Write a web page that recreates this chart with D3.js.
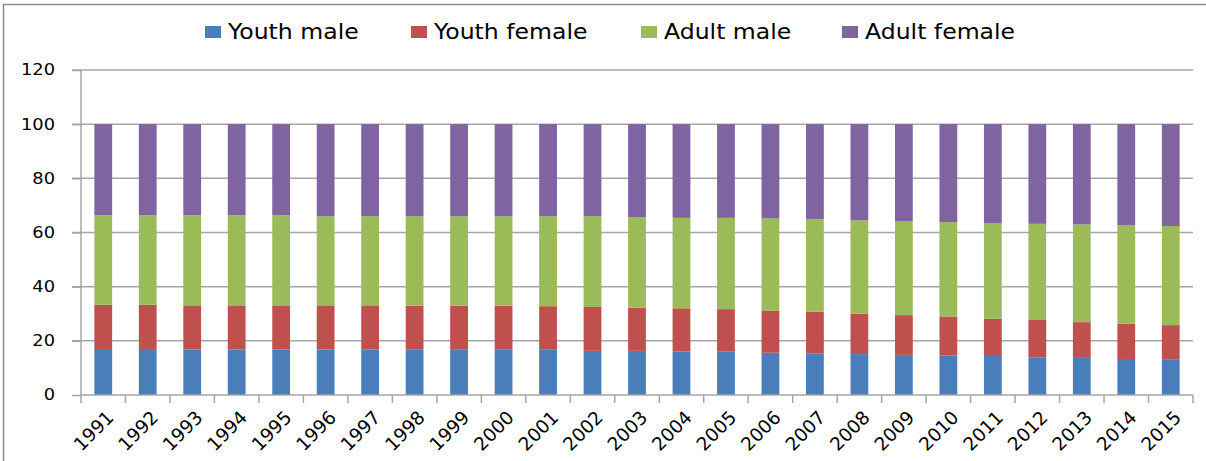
<!DOCTYPE html>
<html>
<head>
<meta charset="utf-8">
<script src="https://cdn.jsdelivr.net/npm/d3@7"></script>
<style>
  body { margin: 0; background: #fff; }
  svg text { font-family: "DejaVu Sans", Verdana, sans-serif; fill: #000; }
</style>
</head>
<body>
<script>
var years = ["1991","1992","1993","1994","1995","1996","1997","1998","1999","2000","2001","2002","2003",
             "2004","2005","2006","2007","2008","2009","2010","2011","2012","2013","2014","2015"];
var youthMale   = [17.0,17.0,16.8,16.8,16.8,16.8,16.8,16.7,16.7,16.7,16.7,16.3,16.3,16.1,16.0,15.6,15.4,15.1,14.8,14.6,14.4,13.9,13.7,13.3,13.0];
var youthFemale = [16.3,16.3,16.3,16.3,16.3,16.3,16.3,16.3,16.3,16.3,16.1,16.2,15.9,15.9,15.7,15.6,15.3,14.9,14.7,14.4,13.8,13.8,13.2,13.0,12.8];
var adultMale   = [33.1,33.1,33.3,33.3,33.3,32.9,32.9,33.0,33.0,33.0,33.2,33.5,33.5,33.4,33.7,34.0,34.2,34.5,34.7,34.8,35.3,35.5,36.1,36.4,36.6];
var adultFemale = [33.6,33.6,33.6,33.6,33.6,34.0,34.0,34.0,34.0,34.0,34.0,34.0,34.3,34.6,34.6,34.8,35.1,35.5,35.8,36.2,36.5,36.8,37.0,37.3,37.6];
var seriesNames = ["Youth male", "Youth female", "Adult male", "Adult female"];
var colors = ["#4a7ebb", "#c0504d", "#9bbb59", "#8064a2"];
var yTicks = [0, 20, 40, 60, 80, 100, 120];

var width = 1206, height = 461;
var margin = {top: 70, right: 13, bottom: 66, left: 81};
var stretch = 1.15; // text in the picture is drawn wider than tall

var rows = years.map(function(y, i) {
  return {year: y, "Youth male": youthMale[i], "Youth female": youthFemale[i],
          "Adult male": adultMale[i], "Adult female": adultFemale[i]};
});
var stacked = d3.stack().keys(seriesNames)(rows);

var svg = d3.select("body").append("svg").attr("width", width).attr("height", height);

// chart area border
svg.append("rect").attr("x", 3.5).attr("y", 4.5).attr("width", width).attr("height", height)
  .attr("fill", "none").attr("stroke", "#8c8c8c").attr("stroke-width", 1.5);

var x = d3.scaleBand().domain(years)
  .range([margin.left, width - margin.right]).paddingInner(0.6).paddingOuter(0.3);
var y = d3.scaleLinear().domain([0, 120]).range([height - margin.bottom, margin.top]);

// gridlines
svg.append("g").selectAll("line").data(yTicks.slice(1)).enter().append("line")
  .attr("x1", margin.left - 9).attr("x2", width - margin.right)
  .attr("y1", function(d) { return y(d); }).attr("y2", function(d) { return y(d); })
  .attr("stroke", "#a6a6a6").attr("stroke-width", 1.5);

// y axis
var yAxis = svg.append("g").attr("transform", "translate(" + margin.left + ",0)")
  .call(d3.axisLeft(y).tickValues(yTicks).tickSize(9).tickPadding(17));
yAxis.selectAll("line, path").attr("stroke", "#a6a6a6").attr("stroke-width", 1.5);
yAxis.select("path").attr("d", "M0," + y(120) + "V" + y(0));
yAxis.selectAll(".tick text")
  .attr("font-size", 15.5).attr("font-family", "DejaVu Sans")
  .attr("x", -26 / stretch).attr("transform", "scale(" + stretch + ",1)");

// bars
svg.append("g").selectAll("g").data(stacked).enter().append("g")
    .attr("fill", function(d, i) { return colors[i]; })
  .selectAll("rect").data(function(d) { return d; }).enter().append("rect")
    .attr("x", function(d) { return x(d.data.year); })
    .attr("width", x.bandwidth())
    .attr("y", function(d) { return y(d[1]); })
    .attr("height", function(d) { return y(d[0]) - y(d[1]); });

// x axis
var x0 = y(0);
var xg = svg.append("g");
xg.append("line").attr("x1", margin.left).attr("x2", width - margin.right)
  .attr("y1", x0).attr("y2", x0).attr("stroke", "#a6a6a6").attr("stroke-width", 1.5);
xg.selectAll("line.tick").data(d3.range(years.length + 1)).enter().append("line")
  .attr("class", "tick")
  .attr("x1", function(i) { return x.range()[0] + i * x.step(); })
  .attr("x2", function(i) { return x.range()[0] + i * x.step(); })
  .attr("y1", x0).attr("y2", x0 + 8).attr("stroke", "#a6a6a6").attr("stroke-width", 1.5);
xg.selectAll("text").data(years).enter().append("text")
  .attr("transform", function(d) {
    return "translate(" + (x(d) + x.bandwidth() / 2 + 7) + "," + (x0 + 19) + ") rotate(-45)";
  })
  .attr("text-anchor", "end").attr("dy", "0.35em").attr("font-size", 18.5)
  .text(function(d) { return d; });

// legend
var legendX = [205, 411, 641, 842];
var lg = svg.append("g").selectAll("g").data(seriesNames).enter().append("g")
  .attr("transform", function(d, i) { return "translate(" + legendX[i] + ",32)"; });
lg.append("rect").attr("x", 0).attr("y", -6).attr("width", 16).attr("height", 12)
  .attr("fill", function(d, i) { return colors[i]; });
lg.append("text").attr("x", 23 / stretch).attr("dy", "0.35em").attr("font-size", 20.5)
  .attr("transform", "scale(" + stretch + ",1)")
  .text(function(d) { return d; });
</script>
</body>
</html>
